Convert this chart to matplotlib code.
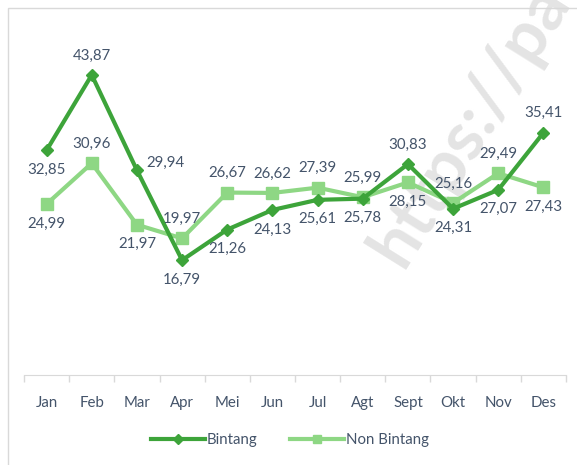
import matplotlib.pyplot as plt
from matplotlib.patches import Rectangle
from matplotlib.ticker import FixedLocator

months = ["Jan", "Feb", "Mar", "Apr", "Mei", "Jun", "Jul", "Agt", "Sept", "Okt", "Nov", "Des"]
bintang = [32.85, 43.87, 29.94, 16.79, 21.26, 24.13, 25.61, 25.78, 30.83, 24.31, 27.07, 35.41]
non_bintang = [24.99, 30.96, 21.97, 19.97, 26.67, 26.62, 27.39, 25.99, 28.15, 25.16, 29.49, 27.43]
# label placement per point, like Excel's data labels
pos_bintang = ["below", "above", "right", "below", "below", "below", "below", "below", "above", "below", "below", "above"]
pos_non = ["below", "above", "below", "above", "above", "above", "above", "above", "below", "above", "above", "below"]

dark = "#3da43a"
light = "#8ed784"
text_col = "#44546a"

plt.rcParams['font.family'] = ['Lato', 'DejaVu Sans']

fig = plt.figure(figsize=(5.77, 4.65), dpi=100)
fig.patches.append(Rectangle((8 / 577, -0.1), 1.2, (465 - 8) / 465 + 0.1, transform=fig.transFigure,
                             fill=False, edgecolor="#d9d9d9", linewidth=1))

# faint watermark behind the chart
fig.text(470 / 577, 1 - 125 / 465, "https://pa", rotation=58, fontsize=50, fontweight="bold",
         color="#e4e4e4", ha="center", va="center", zorder=0)

ax = fig.add_axes([24 / 577, 90 / 465, 542 / 577, 342 / 465])
ax.set_zorder(1)
ax.patch.set_alpha(0)
x = list(range(len(months)))

ax.plot(x, bintang, color=dark, lw=3, marker="D", ms=6, label="Bintang", zorder=3)
ax.plot(x, non_bintang, color=light, lw=3, marker="s", ms=8, label="Non Bintang", zorder=2)


def put_labels(vals, where):
    for i, (v, p) in enumerate(zip(vals, where)):
        s = f"{v:.2f}".replace(".", ",")
        if p == "above":
            ax.annotate(s, (i, v), xytext=(0, 9), textcoords="offset points", ha="center", va="bottom",
                        color=text_col, fontsize=10.8)
        elif p == "below":
            ax.annotate(s, (i, v), xytext=(0, -9), textcoords="offset points", ha="center", va="top",
                        color=text_col, fontsize=10.8)
        else:
            ax.annotate(s, (i, v), xytext=(7, 0), textcoords="offset points", ha="left", va="bottom",
                        color=text_col, fontsize=10.8)


put_labels(bintang, pos_bintang)
put_labels(non_bintang, pos_non)

ax.set_xlim(-0.5, 11.5)
ax.set_ylim(0, 50)
ax.set_yticks([])
ax.set_xticks(x)
ax.set_xticklabels(months, color=text_col, fontsize=10.8)
ax.xaxis.set_minor_locator(FixedLocator([i - 0.5 for i in range(13)]))
ax.tick_params(axis="x", which="major", length=0, pad=15)
ax.tick_params(axis="x", which="minor", length=5, color="#d9d9d9", width=1)
for side in ["top", "right", "left"]:
    ax.spines[side].set_visible(False)
ax.spines["bottom"].set_color("#d9d9d9")

leg = fig.legend(loc="center", bbox_to_anchor=(290 / 577, 1 - 440 / 465), ncol=2, frameon=False,
                 fontsize=10.8, handlelength=3.6, columnspacing=2.2, handletextpad=0.1, markerscale=0.8)
for t in leg.get_texts():
    t.set_color(text_col)

fig.savefig("out.png", dpi=100)
